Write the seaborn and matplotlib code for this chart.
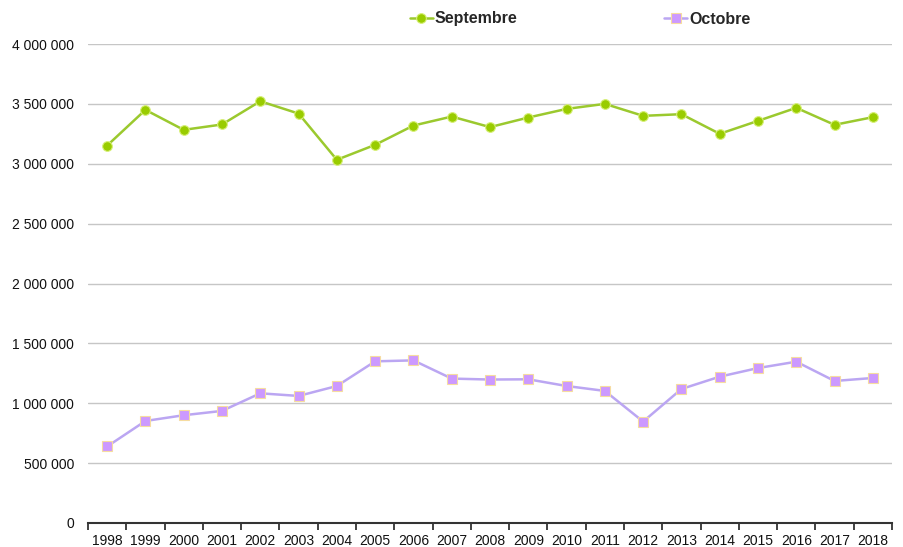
import matplotlib
matplotlib.use("Agg")
import matplotlib.pyplot as plt
import matplotlib.ticker as mticker
import seaborn as sns
import pandas as pd

years = list(range(1998, 2019))
septembre = [3152000, 3450000, 3283000, 3328000, 3522000, 3419000, 3033000,
             3158000, 3319000, 3394000, 3306000, 3386000, 3458000, 3500000,
             3400000, 3414000, 3250000, 3358000, 3467000, 3325000, 3389000]
octobre = [639000, 852000, 900000, 936000, 1083000, 1061000, 1144000,
           1350000, 1358000, 1206000, 1198000, 1200000, 1144000, 1103000,
           847000, 1119000, 1222000, 1294000, 1347000, 1186000, 1211000]
series_names = ["Septembre", "Octobre"]

df = pd.DataFrame({"year": years * 2,
                   "value": septembre + octobre,
                   "serie": [series_names[0]] * len(years) + [series_names[1]] * len(years)})

sns.set_theme(style="white")
plt.rcParams["font.family"] = ["Liberation Sans", "DejaVu Sans"]

fig = plt.figure(figsize=(9.04, 5.47), dpi=100)
ax = fig.add_axes([88 / 904, 1 - 523 / 547, (892 - 88) / 904, (523 - 44) / 547])

sep = df[df.serie == "Septembre"]
octo = df[df.serie == "Octobre"]
sns.lineplot(data=sep, x="year", y="value", ax=ax, color="#9bc92e", linewidth=1.8,
             marker="o", markersize=7, markerfacecolor="#99cc00",
             markeredgecolor="#d8f07a", markeredgewidth=0.8, label="Septembre")
sns.lineplot(data=octo, x="year", y="value", ax=ax, color="#bba6f2", linewidth=1.8,
             marker="s", markersize=6.5, markerfacecolor="#cc99ff",
             markeredgecolor="#f6dca0", markeredgewidth=0.8, label="Octobre")

ax.set_xlim(years[0] - 0.5, years[-1] + 0.5)
ax.set_ylim(0, 4000000)
ax.set_xticks(years)
ax.set_xticklabels([str(y) for y in years])
ax.set_xticks([y - 0.5 for y in years] + [years[-1] + 0.5], minor=True)
ax.set_yticks(range(0, 4000001, 500000))
ax.yaxis.set_major_formatter(mticker.FuncFormatter(lambda v, p: f"{int(v):,}".replace(",", " ")))
ax.set_xlabel("")
ax.set_ylabel("")

ax.grid(axis="y", color="#c6c6c6", linewidth=1)
ax.set_axisbelow(True)
for s in ["top", "right", "left"]:
    ax.spines[s].set_visible(False)
ax.spines["bottom"].set_color("#333333")
ax.spines["bottom"].set_linewidth(1.5)
ax.tick_params(axis="x", which="major", length=0, labelsize=10, colors="#111111", pad=8)
ax.tick_params(axis="x", which="minor", length=5, width=1.3, color="#333333", direction="out", bottom=True)
ax.tick_params(axis="y", length=0, labelsize=10, colors="#111111", pad=10)

ax.get_legend().remove()
handles, labels = ax.get_legend_handles_labels()
leg = fig.legend(handles, labels, loc="center", bbox_to_anchor=(0.6416, 1 - 19 / 547),
                 ncol=2, frameon=False, handlelength=1.45, handletextpad=0.1,
                 columnspacing=9.2, prop={"weight": "bold", "size": 11.5})

fig.savefig("out.png", dpi=100)
